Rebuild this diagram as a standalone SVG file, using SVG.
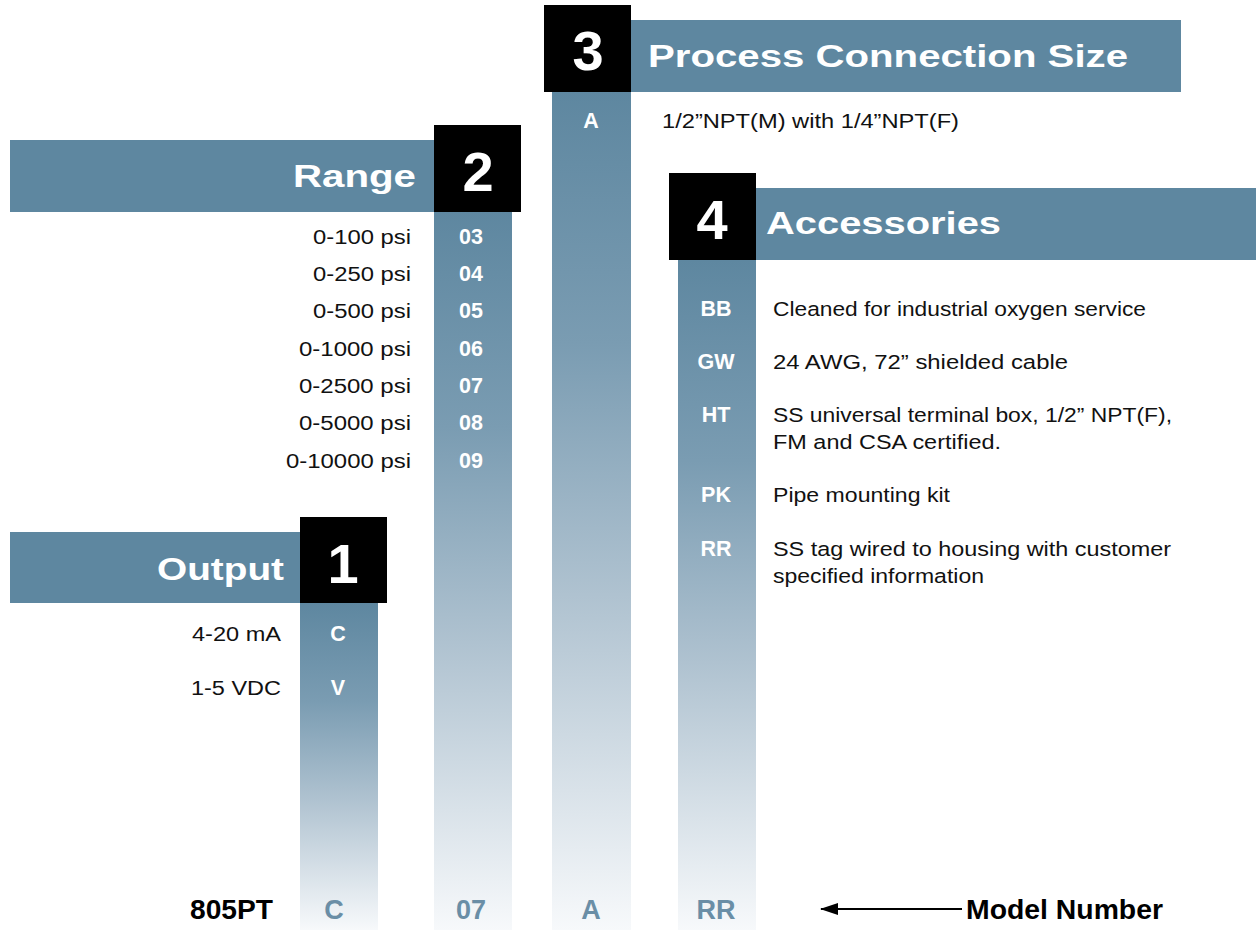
<svg xmlns="http://www.w3.org/2000/svg" width="1256" height="930" viewBox="0 0 1256 930">
<style>
.bar{fill:#5e87a0}
.blk{fill:#000}
.num{font-family:"Liberation Sans",Arial,sans-serif;font-weight:bold;font-size:56px;fill:#fff;text-anchor:middle}
.hdr{font-family:"Liberation Sans",Arial,sans-serif;font-weight:bold;font-size:32px;fill:#fff}
.code{font-family:"Liberation Sans",Arial,sans-serif;font-weight:bold;font-size:21.5px;fill:#fff;text-anchor:middle}
.txt{font-family:"Liberation Sans",Arial,sans-serif;font-size:20.5px;fill:#111}
.bot{font-family:"Liberation Sans",Arial,sans-serif;font-weight:bold;font-size:27px;fill:#6a8ea6;text-anchor:middle}
.botk{font-family:"Liberation Sans",Arial,sans-serif;font-weight:bold;font-size:27px;fill:#000}
</style>
<defs>
<linearGradient id="col" x1="0" y1="0" x2="0" y2="1">
<stop offset="0" stop-color="#5e87a0"/>
<stop offset="0.3" stop-color="#7a9cb2"/>
<stop offset="0.6" stop-color="#afc2d0"/>
<stop offset="1" stop-color="#f7f9fb"/>
</linearGradient>
<marker id="ah" markerWidth="18" markerHeight="12" refX="17" refY="6" orient="auto" markerUnits="userSpaceOnUse">
<path d="M0,0 L18,6 L0,12 Z" fill="#000"/>
</marker>
</defs>
<rect width="1256" height="930" fill="#fff"/>

<g id="output">
<rect x="300" y="603" width="78" height="327" fill="url(#col)"/>
<rect class="bar" x="10" y="532" width="290" height="71"/>
<rect class="blk" x="300" y="517" width="87" height="86"/>
<text class="num" x="343" y="583">1</text>
<text class="hdr" x="284" y="580" text-anchor="end" textLength="127" lengthAdjust="spacingAndGlyphs">Output</text>
<text class="code" x="338" y="641">C</text>
<text class="code" x="338" y="695">V</text>
<text class="txt" x="281" y="641" text-anchor="end" textLength="89" lengthAdjust="spacingAndGlyphs">4-20 mA</text>
<text class="txt" x="281" y="695" text-anchor="end" textLength="90" lengthAdjust="spacingAndGlyphs">1-5 VDC</text>
</g>

<g id="range">
<rect x="434" y="212" width="78" height="718" fill="url(#col)"/>
<rect class="bar" x="10" y="140" width="424" height="72"/>
<rect class="blk" x="434" y="125" width="87" height="87"/>
<text class="num" x="478" y="191">2</text>
<text class="hdr" x="416" y="187" text-anchor="end" textLength="123" lengthAdjust="spacingAndGlyphs">Range</text>
<text class="code" x="471" y="244">03</text>
<text class="code" x="471" y="281">04</text>
<text class="code" x="471" y="318">05</text>
<text class="code" x="471" y="356">06</text>
<text class="code" x="471" y="393">07</text>
<text class="code" x="471" y="430">08</text>
<text class="code" x="471" y="468">09</text>
<text class="txt" x="411" y="244" text-anchor="end" textLength="98" lengthAdjust="spacingAndGlyphs">0-100 psi</text>
<text class="txt" x="411" y="281" text-anchor="end" textLength="98" lengthAdjust="spacingAndGlyphs">0-250 psi</text>
<text class="txt" x="411" y="318" text-anchor="end" textLength="98" lengthAdjust="spacingAndGlyphs">0-500 psi</text>
<text class="txt" x="411" y="356" text-anchor="end" textLength="112" lengthAdjust="spacingAndGlyphs">0-1000 psi</text>
<text class="txt" x="411" y="393" text-anchor="end" textLength="112" lengthAdjust="spacingAndGlyphs">0-2500 psi</text>
<text class="txt" x="411" y="430" text-anchor="end" textLength="112" lengthAdjust="spacingAndGlyphs">0-5000 psi</text>
<text class="txt" x="411" y="468" text-anchor="end" textLength="125" lengthAdjust="spacingAndGlyphs">0-10000 psi</text>
</g>

<g id="process">
<rect x="552" y="92" width="79" height="838" fill="url(#col)"/>
<rect class="bar" x="631" y="20" width="550" height="72"/>
<rect class="blk" x="544" y="5" width="87" height="87"/>
<text class="num" x="588" y="70">3</text>
<text class="hdr" x="648" y="67" textLength="480" lengthAdjust="spacingAndGlyphs">Process Connection Size</text>
<text class="code" x="591" y="128">A</text>
<text class="txt" x="662" y="128" textLength="297" lengthAdjust="spacingAndGlyphs">1/2”NPT(M) with 1/4”NPT(F)</text>
</g>

<g id="accessories">
<rect x="678" y="260" width="78" height="670" fill="url(#col)"/>
<rect class="bar" x="756" y="188" width="500" height="72"/>
<rect class="blk" x="669" y="173" width="87" height="87"/>
<text class="num" x="712" y="239">4</text>
<text class="hdr" x="766" y="234" textLength="235" lengthAdjust="spacingAndGlyphs">Accessories</text>
<text class="code" x="716" y="316">BB</text>
<text class="code" x="716" y="369">GW</text>
<text class="code" x="716" y="422">HT</text>
<text class="code" x="716" y="502">PK</text>
<text class="code" x="716" y="556">RR</text>
<text class="txt" x="773" y="316" textLength="373" lengthAdjust="spacingAndGlyphs">Cleaned for industrial oxygen service</text>
<text class="txt" x="773" y="369" textLength="295" lengthAdjust="spacingAndGlyphs">24 AWG, 72” shielded cable</text>
<text class="txt" x="773" y="422" textLength="399" lengthAdjust="spacingAndGlyphs">SS universal terminal box, 1/2” NPT(F),</text>
<text class="txt" x="773" y="449" textLength="228" lengthAdjust="spacingAndGlyphs">FM and CSA certified.</text>
<text class="txt" x="773" y="502" textLength="177" lengthAdjust="spacingAndGlyphs">Pipe mounting kit</text>
<text class="txt" x="773" y="556" textLength="398" lengthAdjust="spacingAndGlyphs">SS tag wired to housing with customer</text>
<text class="txt" x="773" y="583" textLength="211" lengthAdjust="spacingAndGlyphs">specified information</text>
</g>

<g id="model">
<text class="botk" x="273" y="919" text-anchor="end" textLength="83" lengthAdjust="spacingAndGlyphs">805PT</text>
<text class="bot" x="334" y="919">C</text>
<text class="bot" x="471" y="919">07</text>
<text class="bot" x="591" y="919">A</text>
<text class="bot" x="716" y="919">RR</text>
<text class="botk" x="966" y="919" textLength="197" lengthAdjust="spacingAndGlyphs">Model Number</text>
</g>

<g id="connectors">
<line x1="962" y1="909" x2="821" y2="909" stroke="#000" stroke-width="2" marker-end="url(#ah)"/>
</g>
</svg>
